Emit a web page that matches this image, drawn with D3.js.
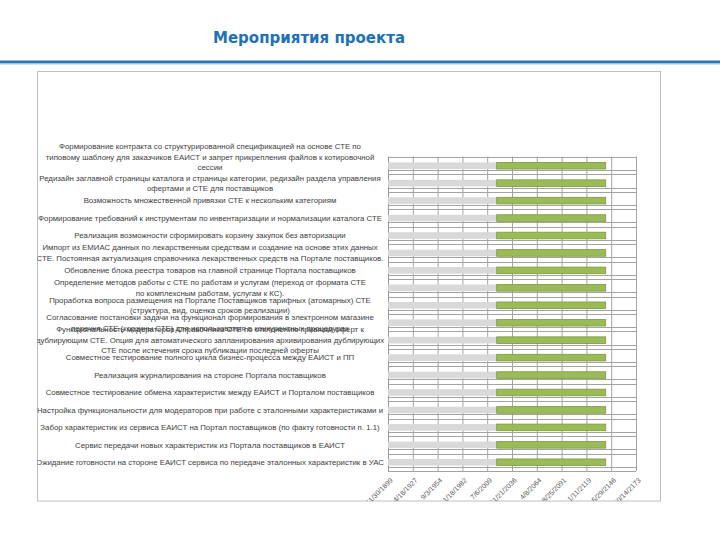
<!DOCTYPE html>
<html>
<head>
<meta charset="utf-8">
<script src="https://cdn.jsdelivr.net/npm/d3@7/dist/d3.min.js"></script>
<style>
  body { margin: 0; background: #fff; }
</style>
</head>
<body>
<script>
// task names (line breaks as wrapped in the original)
var categories = [
  "Формирование контракта со структурированной спецификацией на основе СТЕ по\nтиповому шаблону для заказчиков ЕАИСТ и запрет прикрепления файлов к котировочной\nсессии",
  "Редизайн заглавной страницы каталога и страницы категории, редизайн раздела управления\nофертами и СТЕ для поставщиков",
  "Возможность множественной привязки СТЕ к нескольким категориям",
  "Формирование требований к инструментам по инвентаризации и нормализации каталога СТЕ",
  "Реализация возможности сформировать корзину закупок без авторизации",
  "Импорт из ЕМИАС данных по лекарственным средствам и создание на основе этих данных\nСТЕ. Постоянная актуализация справочника лекарственных средств на Портале поставщиков.",
  "Обновление блока реестра товаров на главной странице Портала поставщиков",
  "Определение методов работы с СТЕ по работам и услугам (переход от формата СТЕ\nпо комплексным работам, услугам к КС).",
  "Проработка вопроса размещения на Портале Поставщиков тарифных (атомарных) СТЕ\n(структура, вид, оценка сроков реализации)",
  "Согласование постановки задачи на функционал формирования в электронном магазине\nперечня СТЕ (корзины СТЕ) для использования в конкурентных процедурах",
  "Функциональность модераторов Справочника СТЕ по отклонению привязки оферт к\nдублирующим СТЕ. Опция для автоматического запланирования архивирования дублирующих\nСТЕ после истечения срока публикации последней оферты",
  "Совместное тестирование полного цикла бизнес-процесса между ЕАИСТ и ПП",
  "Реализация журналирования на стороне Портала поставщиков",
  "Совместное тестирование обмена характеристик между ЕАИСТ и Порталом поставщиков",
  "Настройка функциональности для модераторов при работе с эталонными характеристиками и",
  "Забор характеристик из сервиса ЕАИСТ на Портал поставщиков (по факту готовности п. 1.1)",
  "Сервис передачи новых характеристик из Портала поставщиков в ЕАИСТ",
  "Ожидание готовности на стороне ЕАИСТ сервиса по передаче эталонных характеристик в УАС"
];

// start (grey series) and second series (green), in Excel day serials
var startDays = [43865, 43865, 43865, 43866, 43865, 43865, 43866, 43865, 43865,
                 43865, 43866, 43865, 43865, 43866, 43865, 43865, 43866, 43865];
var secondDays = [44016, 44016, 44016, 44015, 44016, 44016, 44016, 44016, 44016,
                  44016, 44015, 44016, 44016, 44016, 44016, 44016, 44016, 44016];

// date axis
var axisMin = -31;
var tickStep = 10015;
var tickLabels = ["11/30/1899", "4/18/1927", "9/3/1954", "1/18/1982", "7/6/2009",
                  "11/21/2036", "4/8/2064", "8/25/2091", "1/11/2119", "5/29/2146", "10/14/2173"];

var W = 720, H = 540;
var box = {left: 37.5, top: 71.5, right: 660.5, bottom: 501};
var plot = {left: 388, right: 636, top: 157, bottom: 471};

var svg = d3.select("body").append("svg")
    .attr("width", W)
    .attr("height", H);

// slide title
svg.append("text")
    .attr("x", 213)
    .attr("y", 43)
    .attr("textLength", 192)
    .attr("lengthAdjust", "spacingAndGlyphs")
    .style("font-family", "'DejaVu Sans', Verdana, sans-serif")
    .style("font-weight", "bold")
    .style("font-size", "15.5px")
    .style("fill", "#2270b5")
    .text("Мероприятия проекта");

// blue rule under the title
svg.append("rect").attr("x", 0).attr("y", 60.5).attr("width", W).attr("height", 3).attr("fill", "#2f74b5");
svg.append("rect").attr("x", 0).attr("y", 63.5).attr("width", W).attr("height", 1).attr("fill", "#a9cbe9");

// chart area frame
svg.append("defs").append("clipPath").attr("id", "boxclip")
  .append("rect")
    .attr("x", box.left).attr("y", box.top)
    .attr("width", box.right - box.left).attr("height", box.bottom - box.top);

svg.append("rect")
    .attr("x", box.left).attr("y", box.top)
    .attr("width", box.right - box.left).attr("height", box.bottom - box.top)
    .attr("fill", "#fff")
    .attr("stroke", "#bfbfbf");

var chart = svg.append("g").attr("clip-path", "url(#boxclip)");

// scales
var tickValues = tickLabels.map(function(d, i) { return axisMin + i * tickStep; });
var x = d3.scaleLinear()
    .domain([axisMin, axisMin + tickStep * (tickLabels.length - 1)])
    .range([plot.left, plot.right]);

var rows = d3.scaleBand()
    .domain(d3.range(categories.length))
    .range([plot.top, plot.bottom]);

var y = d3.scaleBand()
    .domain(d3.range(categories.length))
    .range([plot.top, plot.bottom])
    .paddingInner(0.62)
    .paddingOuter(0.31);

var gridColor = "#a3a3a3";

// horizontal lines: category boundaries plus the line under each bar
var hLines = d3.range(categories.length + 1).map(function(i) { return plot.top + i * rows.step(); });
chart.selectAll(".hgrid")
    .data(hLines)
  .enter().append("line")
    .attr("class", "hgrid")
    .attr("x1", plot.left).attr("x2", plot.right)
    .attr("y1", function(d) { return Math.round(d) + 0.5; })
    .attr("y2", function(d) { return Math.round(d) + 0.5; })
    .attr("stroke", gridColor);

chart.selectAll(".hgrid2")
    .data(d3.range(categories.length))
  .enter().append("line")
    .attr("class", "hgrid2")
    .attr("x1", plot.left).attr("x2", plot.right)
    .attr("y1", function(i) { return Math.round(rows(i) + rows.step() * 0.75) + 0.5; })
    .attr("y2", function(i) { return Math.round(rows(i) + rows.step() * 0.75) + 0.5; })
    .attr("stroke", gridColor);

// x axis with vertical gridlines
var xAxis = chart.append("g")
    .attr("transform", "translate(0," + plot.bottom + ")")
    .call(d3.axisBottom(x)
        .tickValues(tickValues)
        .tickSize(-(plot.bottom - plot.top))
        .tickSizeOuter(0)
        .tickFormat(function(d, i) { return tickLabels[i]; }));

xAxis.select(".domain").remove();
xAxis.selectAll(".tick line")
    .attr("stroke", gridColor)
    .attr("y2", -(plot.bottom - plot.top) - 0.5);
xAxis.selectAll(".tick text")
    .attr("transform", "translate(3,8) rotate(-45)")
    .attr("x", 0).attr("y", 0).attr("dy", "0.35em")
    .style("text-anchor", "end")
    .style("font-family", "'Liberation Sans', Arial, sans-serif")
    .style("font-size", "7px")
    .style("fill", "#595959");

// left value-axis line
chart.append("line")
    .attr("x1", plot.left + 0.5).attr("x2", plot.left + 0.5)
    .attr("y1", plot.top).attr("y2", plot.bottom + 1)
    .attr("stroke", "#9a9a9a");

// grey series
chart.selectAll(".startbar")
    .data(startDays)
  .enter().append("rect")
    .attr("class", "startbar")
    .attr("x", x(0))
    .attr("y", function(d, i) { return y(i); })
    .attr("width", function(d) { return x(d) - x(0); })
    .attr("height", y.bandwidth())
    .attr("fill", "#d9d9d9");

// green series stacked on top
chart.selectAll(".durbar")
    .data(secondDays)
  .enter().append("rect")
    .attr("class", "durbar")
    .attr("x", function(d, i) { return x(startDays[i]); })
    .attr("y", function(d, i) { return y(i); })
    .attr("width", function(d, i) { return x(startDays[i] + d) - x(startDays[i]); })
    .attr("height", y.bandwidth())
    .attr("fill", "#9bbb59")
    .attr("stroke", "#7a9a3c")
    .attr("stroke-width", 0.8);

// category labels, sized so the longest line fits the label column
var labelFont = "'Liberation Sans', Arial, sans-serif";
var probe = svg.append("text")
    .style("font-family", labelFont)
    .style("font-size", "10px")
    .text("Формирование требований к инструментам по инвентаризации и нормализации каталога СТЕ");
var labelSize = 10 * 344 / probe.node().getComputedTextLength();
probe.remove();

var lineH = 10.5;
var lineSets = categories.map(function(d) { return d.split("\n"); });
var firstLine = lineSets.map(function(lines, i) {
  return y(i) + y.bandwidth() / 2 - (lines.length - 1) * lineH / 2;
});
// the top label has room above it, so lift it clear of the one below
var lastOfFirst = firstLine[0] + (lineSets[0].length - 1) * lineH;
if (lastOfFirst > firstLine[1] - lineH) firstLine[0] -= lastOfFirst - (firstLine[1] - lineH);

var labels = chart.selectAll(".cat")
    .data(lineSets)
  .enter().append("text")
    .attr("class", "cat")
    .attr("text-anchor", "middle")
    .style("font-family", labelFont)
    .style("font-size", labelSize + "px")
    .style("fill", "#404040");

labels.each(function(lines, i) {
  d3.select(this).selectAll("tspan")
      .data(lines)
    .enter().append("tspan")
      .attr("x", 210)
      .attr("y", function(l, k) { return firstLine[i] + k * lineH; })
      .attr("dy", "0.35em")
      .text(function(l) { return l; });
});
</script>
</body>
</html>
